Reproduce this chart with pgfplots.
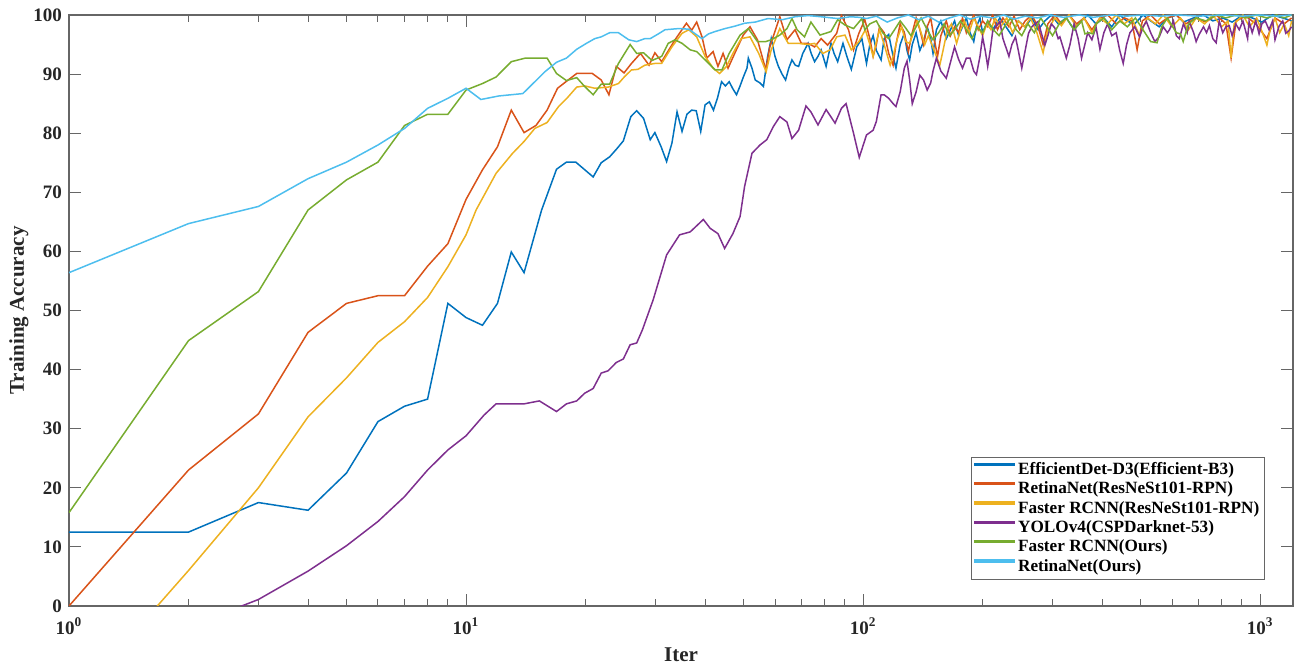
\documentclass[border=0pt]{standalone}
\usepackage{fontspec}
\setmainfont{Liberation Serif}
\usepackage{pgfplots}
\pgfplotsset{compat=1.18}
\definecolor{mlblue}{rgb}{0,0.447,0.741}
\definecolor{mlred}{rgb}{0.85,0.325,0.098}
\definecolor{mlyellow}{rgb}{0.929,0.694,0.125}
\definecolor{mlpurple}{rgb}{0.494,0.184,0.556}
\definecolor{mlgreen}{rgb}{0.466,0.674,0.188}
\definecolor{mlcyan}{rgb}{0.301,0.745,0.933}
\begin{document}
\begin{tikzpicture}
\begin{axis}[
  scale only axis, width=612pt, height=295.5pt,
  xmode=log, xmin=1, xmax=1210, ymin=0, ymax=100,
  xtick={1,10,100,1000},
  xticklabels={{10\textsuperscript{0}},{10\textsuperscript{1}},{10\textsuperscript{2}},{10\textsuperscript{3}}},
  minor xtick={2,3,4,5,6,7,8,9,20,30,40,50,60,70,80,90,200,300,400,500,600,700,800,900},
  ytick={0,10,...,100},
  /pgf/number format/assume math mode=true,
  tick label style={font=\bfseries\fontsize{9.5}{11}\selectfont, text=black!85},
  xticklabel style={yshift=-2.3pt},
  major tick length=6pt, minor tick length=3.5pt,
  tick style={black!60, line width=0.5pt},
  axis line style={black!60, line width=0.6pt},
  xlabel={Iter}, ylabel={Training Accuracy},
  label style={font=\bfseries\fontsize{10.5}{12}\selectfont, text=black!85},
  xlabel style={at={(axis description cs:0.5,-0.083)},anchor=center},
  ylabel style={at={(axis description cs:-0.041,0.5)},anchor=center},
  legend style={at={(0.977,0.044)}, anchor=south east, draw=black!60, line width=0.5pt,
    font=\bfseries\fontsize{8.6}{10}\selectfont, inner xsep=1pt, inner ysep=1.5pt,
    nodes={inner xsep=1.5pt, inner ysep=1.1pt}},
  legend cell align=left,
  legend image code/.code={\fill[#1] (0cm,0.55ex) rectangle (0.7cm,0.55ex+0.8pt);},
  every axis plot/.append style={line width=0.75pt},
]
\addplot[color=mlblue] coordinates {(1,12.5)(2,12.5)(3,17.5)(4,16.2)(5,22.5)(6,31.2)(7,33.8)(8,35)(9,51.2)(10,48.8)(11,47.5)(12,51.2)(13,59.9)(14,56.4)(15,63.6)(15.5,67)(16.9,73.9)(17.9,75.1)(18.9,75.1)(20.9,72.6)(21.9,75)(23,76)(24,77.4)(24.9,78.7)(26,82.8)(26.9,83.8)(28,82.5)(29.1,78.9)(29.9,80.1)(31,77.7)(32,75.2)(33,78.3)(34,83.6)(35,80.3)(36,83.2)(37,83.9)(38,83.8)(39,80.3)(40,84.8)(41,85.3)(42,83.9)(43,86)(44,88.7)(45,88)(46,88.7)(47,87.5)(48,86.5)(49,88)(50,89.6)(51,91)(51.4,92.7)(52.5,91)(53.5,89)(55,88.5)(56.1,87.9)(57.5,93)(58.7,96)(60,93)(61.2,91.3)(62.5,90)(63.8,89)(65,91)(66.2,92.4)(67.5,91.5)(68.8,91.3)(70.5,93.5)(72.7,95.2)(74,93.5)(75.5,92.1)(77,93)(78.4,94.1)(80.7,91.3)(83,95.2)(84.5,93.5)(86.3,92.1)(89,95.2)(91,93)(93.4,90.8)(96.4,94.6)(99.3,96)(102,91.8)(104,95)(106,96.5)(108,94)(111,92.4)(113,96)(116,96.7)(119,93)(121,91)(124,95)(127,96.9)(129,94)(131,92.4)(133,95)(136,97)(139,94)(142,95.5)(145,98)(148,96)(150,93.5)(153,97.5)(157,99)(162,96)(166,97.5)(170,99)(174,96.5)(178,98)(182,99.5)(186,97)(190,95.5)(193,98)(197,99.5)(200,97)(206,99)(212,97.5)(221,99.5)(229,98)(237,96.5)(246,99)(256,98)(266,99.5)(276,97.5)(287,99)(298,100)(310,98.5)(325,99.5)(340,97.5)(355,99)(368,100)(386,98.5)(404,99.5)(423,98)(443,100)(461,99)(483,98.5)(507,100)(530,99)(557,98)(584,99.5)(615,100)(641,98.8)(680,99.5)(720,100)(760,99)(805,99.5)(850,98.8)(905,100)(955,99.5)(1010,98.8)(1075,100)(1140,99.5)(1200,99)};
\addlegendentry{EfficientDet-D3(Efficient-B3)}
\addplot[color=mlred] coordinates {(1,0)(2,23)(3,32.5)(4,46.3)(5,51.2)(6,52.5)(7,52.5)(8,57.5)(9,61.3)(10,68.8)(11,73.8)(12,77.7)(13,83.9)(14,80.1)(15,81.3)(16,83.9)(17,87.6)(18,88.9)(19,90.1)(20.8,90.1)(21.9,89)(22.9,86.5)(23.9,91.3)(25,90.2)(26.1,91.8)(27.5,93.5)(28.9,91.5)(29.9,93.6)(31.1,92.1)(33.6,95.8)(35.9,98.6)(37,97.4)(38.1,98.8)(39.3,96.3)(40.4,92.7)(41.9,93.8)(43.1,91.3)(44.4,93.5)(45.7,91)(47.5,93.5)(49.9,96.6)(51.9,98)(54.2,95.8)(56.9,90.7)(58.2,94.6)(61.7,99.7)(64.3,95.8)(67.4,97.5)(69.9,95.2)(72.7,95.2)(75.5,94.6)(78.4,96)(81.4,94.9)(85.8,96.9)(88.2,99.9)(91.9,97.5)(94.6,94.1)(97.6,96.9)(101,99.2)(104,96)(106,93)(108,95)(110,98)(113,97)(116,93.5)(119,91.5)(121,95)(124,98.5)(127,97)(130,93.8)(133,97)(136,99.5)(139,97.5)(142,95)(145,98)(148,99.5)(151,96)(154,93)(157,96.5)(162,99)(166,96.5)(170,98)(174,97)(178,99.5)(182,97)(186,98.5)(190,100)(195,97.5)(200,99)(206,98)(212,100)(218,97.5)(225,99.5)(233,98)(240,99.8)(248,97.5)(256,99)(266,100)(276,98)(284,95)(292,98.5)(304,100)(316,98.5)(330,100)(345,98.5)(360,99.5)(377,97.5)(395,99.5)(413,100)(434,98.5)(455,99.5)(475,99)(490,94.1)(505,99)(530,100)(557,98.5)(584,99.5)(615,100)(650,98.5)(690,99.5)(730,98.8)(775,100)(820,98.5)(845,92.7)(870,99)(920,99.8)(975,98.5)(1040,96)(1090,99.5)(1150,98.5)(1200,99.5)};
\addlegendentry{RetinaNet(ResNeSt101-RPN)}
\addplot[color=mlyellow] coordinates {(1,-17)(2,6)(3,20)(4,32)(5,38.6)(6,44.6)(7,48.1)(8,52.2)(9,57.4)(10,62.8)(10.6,67)(11.9,73.2)(13.1,76.6)(14,78.6)(14.9,80.8)(16,81.8)(17.1,84.5)(18,86)(19,87.8)(19.9,88)(21.1,87.6)(22.8,87.8)(24.2,88.4)(25.1,89.6)(26.1,90.7)(27.1,90.8)(28.2,91.5)(29.9,91.8)(31.1,91.8)(33,94.6)(35,96.9)(36.4,97.5)(38.1,96.3)(40,93)(41.9,91)(43.5,90.1)(45.3,91.3)(47,93.5)(49.3,96)(51.9,96.3)(54.6,93.5)(57,90.4)(58.7,94.1)(61.7,97.7)(64.8,95.2)(68.8,95.2)(72.7,95)(75.5,95.2)(79.2,93.5)(82.6,94.1)(85.8,96.3)(90,96.6)(93.4,94.1)(97.6,95.5)(101.3,97.5)(104,95)(106,93)(108,95.5)(110,97.5)(113,95)(117,91.5)(119,93)(122,96)(125,98)(128,95.5)(131,95.2)(134,97)(137,99)(140,97)(143,95)(146,96.5)(149,95)(152,93.5)(156,91.5)(159,94)(163,97.5)(167,98.5)(172,95.2)(176,97.5)(180,99)(185,97)(190,99.5)(195,98)(200,96.5)(205,98.5)(210,97.5)(215,99.5)(222,98)(230,99.5)(238,97)(246,99)(255,98)(264,99.5)(274,97)(284,93.6)(292,97.5)(304,99.5)(316,98.2)(330,100)(345,98)(360,99.5)(377,97)(395,99.5)(413,98.5)(434,100)(455,98.5)(475,99.5)(497,96.5)(520,99.5)(545,98.5)(570,100)(600,98)(630,99.5)(660,97.5)(690,99.5)(725,98.5)(760,100)(800,98)(830,99)(845,92.7)(860,98.5)(905,100)(940,98)(980,99.5)(1020,96.5)(1040,94.9)(1060,97.5)(1090,99.5)(1120,97)(1150,98.5)(1180,96.5)(1200,99)};
\addlegendentry{Faster RCNN(ResNeSt101-RPN)}
\addplot[color=mlpurple] coordinates {(1,-11)(2,-3.5)(3,1.1)(4,5.9)(5,10.2)(6,14.3)(7,18.5)(8,23)(9,26.4)(10,28.8)(11.1,32.3)(11.9,34.2)(13,34.2)(14,34.2)(15.3,34.7)(16.9,32.9)(17.9,34.2)(19,34.7)(19.9,36)(20.9,36.8)(21.9,39.4)(22.8,39.8)(23.9,41.2)(24.9,41.8)(25.9,44.2)(26.9,44.5)(27.8,46.7)(29.6,51.8)(32,59.4)(34.5,62.8)(36.7,63.3)(39.6,65.4)(41.2,63.9)(43.1,63)(44.8,60.5)(47,63)(49,65.9)(50.3,71)(52.5,76.6)(55,78)(57.2,78.9)(59.4,81.1)(61.7,82.8)(64.3,81.9)(66.2,79.1)(68.8,80.5)(71.8,84.6)(73.9,83.6)(77,81.4)(80.7,84)(85,81.7)(88.2,84.2)(90.6,85)(94.6,80)(97.8,75.9)(102,79.7)(106,80.5)(108,82)(111,86.5)(113,86.5)(116,85.9)(119,85)(121,84.5)(124,87)(127,91)(129,92.2)(131,89)(133,85)(136,87)(139,89.8)(142,89)(145,87.3)(148,88.5)(150,90.5)(153,92.7)(157,90.5)(162,89.3)(166,92)(170,94.6)(174,92.5)(178,91)(182,92.7)(186,92.7)(190,90.5)(193,89.9)(197,93)(200,96.3)(203,94)(206,91.3)(209,94)(212,97.2)(216,98)(221,98.9)(225,96)(229,94.5)(233,93)(237,95)(242,96.3)(246,94)(251,91)(256,94)(261,96.9)(266,98)(271,98.5)(276,98.9)(281,97)(287,94.9)(292,96.5)(298,98.5)(304,97.8)(310,96)(313,96.3)(319,94.5)(325,92.7)(332,95)(340,98.5)(348,96)(355,92.7)(360,94.4)(368,97)(377,95.8)(386,98)(395,94.2)(404,97)(413,98.5)(423,96.5)(434,97)(443,94)(452,91.8)(461,95)(470,97)(483,98)(497,96.3)(507,98)(517,98.9)(530,97)(543,95.5)(557,96.3)(570,98)(584,97)(591,97.5)(605,99)(615,96.5)(626,96)(641,98.5)(655,97)(663,98.9)(680,97)(690,95.5)(702,96.7)(720,98)(733,97)(745,98.2)(760,96)(775,95.3)(789,99)(805,97)(820,98)(836,98.2)(850,96.5)(868,98.5)(886,97.5)(905,99)(930,96)(938,98.9)(955,97)(975,99)(994,96.8)(1010,98.5)(1030,99)(1053,97.5)(1075,99)(1090,95.8)(1116,98.1)(1140,99)(1160,96.9)(1180,97.3)(1200,98)};
\addlegendentry{YOLOv4(CSPDarknet-53)}
\addplot[color=mlgreen] coordinates {(1,15.8)(2,44.9)(3,53.2)(4,67)(5,72.1)(6,75.1)(7,81.3)(8,83.2)(9,83.2)(10,87.3)(11,88.4)(11.9,89.5)(13,92.1)(14.1,92.7)(16,92.7)(16.9,90.1)(17.9,88.9)(19,89.4)(19.9,87.9)(20.9,86.5)(21.9,88.3)(23,88.3)(24.2,91.8)(25.9,95)(26.9,93.5)(28,93.6)(29.4,92.3)(31.1,93)(32.3,95.2)(33.6,95.8)(35,95.2)(36.7,94.1)(38.1,93.8)(40,92.4)(42.4,90.7)(44.1,90.7)(46,93.5)(49,96.6)(51.4,97.7)(54.2,95.5)(56.9,95.5)(58.7,95.8)(61.7,96.6)(64.3,97.7)(66.2,99.4)(68.2,97.5)(71.2,96.3)(73.9,98.8)(77.9,96.6)(83,97.2)(86.3,99.2)(90,98.3)(94.6,97.7)(99.3,99.4)(101,97.5)(104,98.5)(108,99)(112,97)(116,96)(120,97.5)(124,99)(128,97.8)(132,96.5)(136,98)(140,99.5)(145,97.5)(150,95.8)(155,97)(160,98.5)(165,96.5)(170,97.5)(176,99)(182,97.5)(188,96)(194,98)(200,97)(206,99)(213,97.5)(220,96.5)(227,98)(235,99.5)(243,97.5)(251,96.5)(260,98.5)(270,97)(280,99.5)(290,98)(300,96.5)(312,98.5)(325,99.5)(340,97.5)(355,99)(362,96.8)(370,97)(380,96.8)(386,98.5)(404,99.5)(423,97.5)(443,99)(463,98)(485,99.5)(507,97.5)(530,95.5)(550,95.3)(565,98)(584,99.5)(615,97)(630,96.8)(640,95.5)(660,98.5)(690,99.5)(730,99)(775,100)(820,99.5)(870,100)(920,99.5)(975,100)(1040,99.5)(1100,100)(1150,99.5)(1200,100)};
\addlegendentry{Faster RCNN(Ours)}
\addplot[color=mlcyan] coordinates {(1,56.4)(2,64.7)(3,67.6)(4,72.3)(5,75.1)(6,78)(7,80.8)(8,84.2)(9,85.9)(10,87.6)(10.9,85.7)(12.1,86.3)(13.9,86.7)(14.9,88.7)(15.8,90.4)(16.9,92)(17.9,92.7)(19,94.2)(20.1,95.2)(21.1,96)(21.9,96.3)(23,97)(24.2,97)(25.7,95.8)(26.9,95.5)(28.2,96)(29.1,96)(30.5,96.8)(31.7,97.5)(34.3,97.7)(36.4,97.6)(37.8,96.8)(39.3,96)(40.8,96.8)(42.4,97.2)(44.9,97.7)(47.5,98.1)(50.3,98.6)(53.5,98.8)(57.6,99.4)(62.6,99.2)(67.4,99.7)(72.7,99.9)(78.4,99.7)(86.3,99.4)(93,99.7)(98,99.6)(102,99.4)(108,99.8)(115,98.8)(122,99.5)(130,100)(138,99.2)(146,99.8)(155,98.8)(165,99.5)(175,100)(186,99.3)(198,99.8)(212,99.5)(226,100)(240,99.3)(256,99.8)(275,99.5)(295,100)(320,99.6)(350,100)(380,99.6)(420,100)(460,99.8)(510,100)(560,99.8)(620,100)(700,99.8)(800,100)(900,99.8)(1000,100)(1100,99.8)(1200,100)};
\addlegendentry{RetinaNet(Ours)}
\end{axis}
\pgfresetboundingbox
\path ([shift={(-34.5pt,-30pt)}]current axis.south west) rectangle ([shift={(1pt,7.5pt)}]current axis.north east);
\end{tikzpicture}
\end{document}
